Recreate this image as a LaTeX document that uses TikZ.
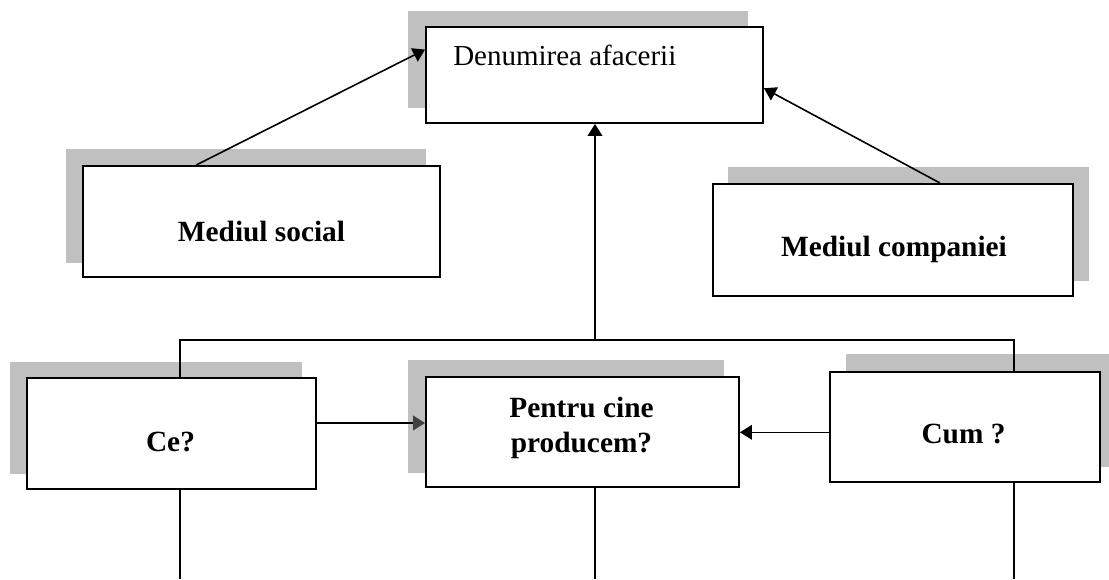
\documentclass[tikz,border=0pt]{standalone}
\usepackage{fontspec}
\setmainfont{Liberation Serif}
\usetikzlibrary{arrows.meta,backgrounds,calc}
\definecolor{shadowgray}{HTML}{C0C0C0}
\definecolor{tipgray}{HTML}{404040}
\begin{document}
\begin{tikzpicture}[x=0.75pt,y=-0.75pt,
  box/.style={draw=black,line width=1.4pt,fill=white,rectangle,inner sep=0pt},
  sz/.style 2 args={minimum width=#1*0.75pt,minimum height=#2*0.75pt},
  shadowbox/.style={fill=shadowgray},
  lbl/.style={font=\fontsize{22pt}{26.25pt}\selectfont\bfseries,align=center,inner sep=0pt},
  plainlbl/.style={font=\fontsize{21.75pt}{26.25pt}\selectfont,inner sep=0pt},
  conn/.style={line width=1.2pt,draw=black},
  arr/.style={conn,-{Triangle[length=9pt,width=11pt]}},
  arrg/.style={conn,-{Triangle[length=9pt,width=11pt,color=tipgray]}},
]
\useasboundingbox (0,0) rectangle (1109,579);

% boxes
\node[box,sz={337}{96}]  (d)   at (594.5,75)    {};
\node[box,sz={357}{111}] (ms)  at (261.5,221.3) {};
\node[box,sz={360}{112}] (mc)  at (893,240)     {};
\node[box,sz={289}{111}] (ce)  at (171.5,433.5) {};
\node[box,sz={313}{110}] (pen) at (582.5,432.3) {};
\node[box,sz={270}{110}] (cum) at (965,427)     {};

% shadows
\begin{scope}[on background layer]
  \fill[shadowbox] (408,11)  rectangle (748,108);
  \fill[shadowbox] (66,149)  rectangle (426,263);
  \fill[shadowbox] (728,167) rectangle (1089,281);
  \fill[shadowbox] (10,362)  rectangle (302,474);
  \fill[shadowbox] (408,360) rectangle (724,473);
  \fill[shadowbox] (846,354) rectangle (1109,467);
\end{scope}

% texts
\node[plainlbl,anchor=base west] (dt) at (453,65) {Denumirea afacerii};
\node[lbl,anchor=base] (mst) at (261.5,241.7) {Mediul social};
\node[lbl,anchor=base] (mct) at (894,256.7) {Mediul companiei};
\node[lbl,anchor=base] (cet) at (170.5,451.7) {Ce?};
\node[lbl,anchor=center] (pent) at (581.5,427.5) {Pentru cine\\producem?};
\node[lbl,anchor=base] (cumt) at (963.5,443) {Cum ?};

% connectors
\draw[arr] ($(ms.north west)!0.319!(ms.north east)$) -- ($(d.north west)!0.24!(d.south west)$);
\draw[arr] ($(mc.north west)!0.63!(mc.north east)$) -- ($(d.north east)!0.635!(d.south east)$);

\coordinate (bl) at (180,340);
\coordinate (bm) at (595,340);
\coordinate (br) at (1014,340);
\draw[conn] (bl |- ce.north) -- (bl) -- (br) -- (br |- cum.north);
\draw[arr] (bm) -- (bm |- d.south);

\coordinate (el) at (180,579);
\coordinate (em) at (595,579);
\coordinate (er) at (1014,579);
\draw[conn] (bl |- ce.south) -- (el);
\draw[conn] (bm |- pen.south) -- (em);
\draw[conn] (br |- cum.south) -- (er);

\coordinate (yce) at (0,423);
\draw[arrg] (ce.east |- yce) -- (pen.west |- yce);
\draw[arr] (cum.west |- pen.east) -- (pen.east);
\end{tikzpicture}
\end{document}
